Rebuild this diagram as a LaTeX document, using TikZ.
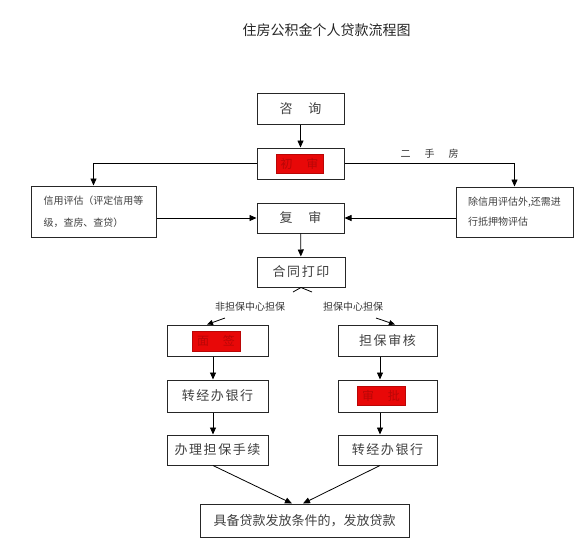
\documentclass[tikz,border=0pt]{standalone}
\usepackage{fontspec}
\usepackage{tikz}
\usetikzlibrary{arrows.meta}
\newfontfamily\cjk{Noto Sans CJK SC}
\newfontfamily\cjkwide[LetterSpace=12]{Noto Sans CJK SC}
\definecolor{stamp}{RGB}{232,8,8}

\begin{document}
\begin{tikzpicture}[x=1pt,y=-1pt]
            \useasboundingbox[fill=white] (0,0) rectangle (587,547);
            \node[font=\cjk\fontsize{14}{16}\selectfont, text=black!85] (0) at (326.5,30) {住房公积金个人贷款流程图};
            \begin{scope}[every node/.style={draw=black!85, line width=1pt, inner sep=0pt, minimum height=31pt, text=black!75, font=\cjkwide\fontsize{13}{15}\selectfont}]
                \node[minimum width=87pt] (1) at (300.5,108.5) {咨\hspace{16pt}询};
                \node[minimum width=87pt] (2) at (300.5,163.5) {};
                \node[minimum width=125pt, minimum height=51pt, align=left, font=\cjk\fontsize{10}{22}\selectfont] (3) at (93.5,211.5) {信用评估（评定信用等\\级，查房、查贷）};
                \node[minimum width=117pt, minimum height=50pt, align=left, font=\cjk\fontsize{10}{20}\selectfont] (4) at (514.5,212) {除信用评估外,还需进\\行抵押物评估};
                \node[minimum width=87pt, minimum height=30pt] (5) at (300.5,218) {复\hspace{16pt}审};
                \node[minimum width=88pt, minimum height=30pt] (6) at (301,272) {合同打印};

                \node[minimum width=101pt] (7) at (217.5,340.5) {};
                \node[minimum width=99pt] (8) at (387.5,340.5) {担保审核};
                \node[minimum width=101pt, minimum height=32pt] (9) at (217.5,396) {转经办银行};
                \node[minimum width=99pt, minimum height=32pt] (10) at (387.5,396) {};
                \node[minimum width=101pt, minimum height=30pt] (11) at (217.5,450) {办理担保手续};
                \node[minimum width=99pt, minimum height=30pt] (12) at (387.5,450) {转经办银行};

                \node[minimum width=209pt, minimum height=33pt, font=\cjk\fontsize{13}{15}\selectfont] (13) at (304.5,520.5) {具备贷款发放条件的，发放贷款};
            \end{scope}
            % red blocks over the hidden steps
            \begin{scope}[every node/.style={fill=stamp, draw=stamp!80!black, line width=0.6pt, inner sep=0pt, text=stamp!80!black, font=\cjk\fontsize{12}{14}\selectfont}]
                \node[minimum width=47pt, minimum height=19pt] (2r) at (299.5,163.5) {初\hspace{14pt}审};
                \node[minimum width=48pt, minimum height=20pt] (7r) at (216,341) {面\hspace{14pt}签};
                \node[minimum width=48pt, minimum height=19pt] (10r) at (381,395.5) {审\hspace{14pt}批};
            \end{scope}
            \begin{scope}[every node/.style={text=black!80, font=\cjk\fontsize{10}{12}\selectfont}]
                \node (14) at (250,307) {非担保中心担保};
                \node (15) at (353,307) {担保中心担保};
            \end{scope}
            \coordinate (a) at (293,292);
            \coordinate (b) at (312,292);
            \coordinate (c) at (225,318);
            \coordinate (d) at (376,318);
            \begin{scope}[every edge/.style={draw, line width=0.8pt, -{Triangle[length=7pt,width=6pt]}}]
                \path (1) edge (2);
                \path (5) edge (6);
                \path ([xshift=-4.5pt]7.south) edge ([xshift=-4.5pt]9.north);
                \path ([xshift=-4.5pt]9.south) edge ([xshift=-4.5pt]11.north);
                \path ([xshift=-7.5pt]8.south) edge ([xshift=-7.5pt]10.north);
                \path ([xshift=-7.5pt]10.south) edge ([xshift=-7.5pt]12.north);
                \path (3.east |- 5.west) edge (5.west);
                \path (4.west |- 5.east) edge (5.east);
                \path ([xshift=-4.5pt]11.south) edge ([xshift=-12.5pt]13.north);
                \path ([xshift=-7.5pt]12.south) edge ([xshift=-1.5pt]13.north);
                \path (c) edge[-{Triangle[length=6pt,width=5pt]}] ([xshift=-10.5pt]7.north);
                \path (d) edge[-{Triangle[length=6pt,width=5pt]}] ([xshift=7.5pt]8.north);
            \end{scope}
            \draw[line width=0.8pt, -{Triangle[length=7pt,width=6pt]}] (2) -| (3);
            \draw[line width=0.8pt, -{Triangle[length=7pt,width=6pt]}] (2) -| node[pos=0.25, above=1pt, text=black!80, font=\cjk\fontsize{10}{12}\selectfont] {二\hspace{14pt}手\hspace{14pt}房} (4);
            \draw[line width=0.8pt] (a) -- (6.south) -- (b);
        \end{tikzpicture}
\end{document}
